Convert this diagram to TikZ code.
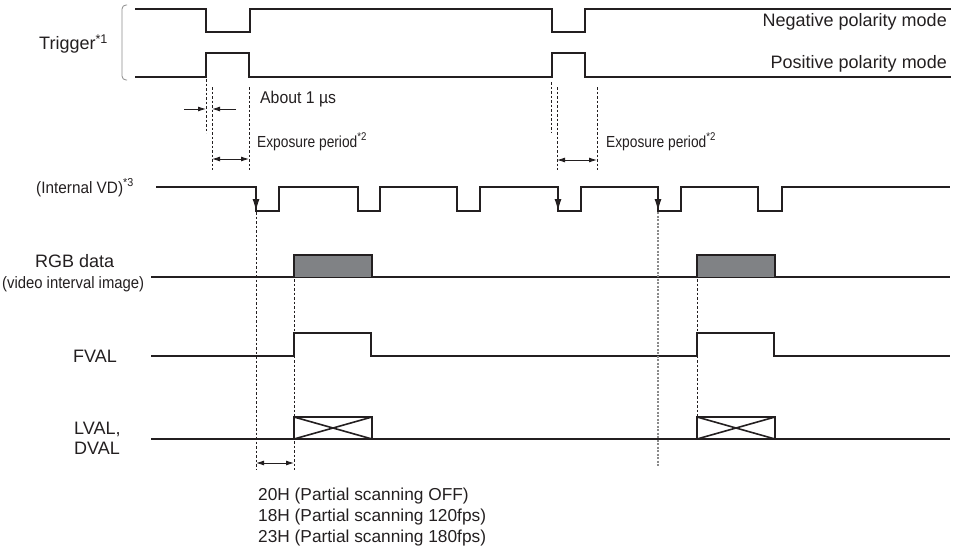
\documentclass[tikz,border=0pt]{standalone}
\usepackage{fontspec}
\setmainfont{Liberation Sans}
\usetikzlibrary{arrows.meta}
\definecolor{ink}{HTML}{231F20}
\definecolor{boxfill}{HTML}{808285}
\definecolor{guidegrey}{HTML}{8A8A8A}
\begin{document}
\begin{tikzpicture}[x=1pt,y=-1pt,
  sig/.style={line width=2.3pt, color=ink, line join=miter},
  guide/.style={line width=0.8pt, dash pattern=on 2.5pt off 2pt, color=ink},
  guidegray/.style={line width=1.1pt, dash pattern=on 2pt off 1.5pt, color=guidegrey},
  dimarrow/.style={line width=0.9pt, color=ink, -{Latex[length=8pt,width=5pt]}},
  dimboth/.style={line width=0.9pt, color=ink, {Latex[length=8pt,width=5pt]}-{Latex[length=8pt,width=5pt]}},
  vdarrow/.style={line width=1pt, color=ink, -{Latex[length=12pt,width=7pt]}},
  lbl/.style={inner sep=0pt, color=ink, font=\fontsize{18}{20}\selectfont},
  smalllbl/.style={inner sep=0pt, color=ink, font=\fontsize{16}{18}\selectfont, xscale=0.86},
  notelbl/.style={inner sep=0pt, color=ink, font=\fontsize{17.3}{20}\selectfont},
]
\useasboundingbox (0,0) rectangle (961,551);

% ---- bracket
\draw[line width=0.8pt, color=guidegrey, rounded corners=4pt] (127,5) -- (122,5) -- (122,80) -- (127,80);

% ---- trigger signals
\draw[sig] (135,9) -- (206,9) -- (206,32) -- (250,32) -- (250,9) -- (552,9) -- (552,32) -- (585,32) -- (585,9) -- (951,9);
\draw[sig] (135,77) -- (206,77) -- (206,53) -- (249,53) -- (249,77) -- (552,77) -- (552,53) -- (585,53) -- (585,77) -- (951,77);

% ---- internal VD
\draw[sig] (156,187) -- (256,187) -- (256,211) -- (279,211) -- (279,187) -- (358,187) -- (358,211) -- (380,211) -- (380,187)
  -- (457,187) -- (457,211) -- (480,211) -- (480,187) -- (558,187) -- (558,211) -- (581,211) -- (581,187)
  -- (658,187) -- (658,211) -- (681,211) -- (681,187) -- (758,187) -- (758,211) -- (782,211) -- (782,187) -- (950,187);
\coordinate (vda1) at (256,190); \coordinate (vdb1) at (256,211);
\coordinate (vda2) at (558,190); \coordinate (vdb2) at (558,211);
\coordinate (vda3) at (658,190); \coordinate (vdb3) at (658,211);
\draw[vdarrow] (vda1) -- (vdb1);
\draw[vdarrow] (vda2) -- (vdb2);
\draw[vdarrow] (vda3) -- (vdb3);

% ---- RGB data
\draw[sig] (151,277) -- (950,277);
\draw[sig, fill=boxfill] (294,277) -- (294,255) -- (372,255) -- (372,277);
\draw[sig, fill=boxfill] (697,277) -- (697,255) -- (775,255) -- (775,277);

% ---- FVAL
\draw[sig] (151,356) -- (294,356) -- (294,333) -- (371,333) -- (371,356) -- (697,356) -- (697,333) -- (774,333) -- (774,356) -- (950,356);

% ---- LVAL / DVAL
\draw[sig] (151,439) -- (950,439);
\draw[sig] (294,439) -- (294,417) -- (372,417) -- (372,439);
\draw[line width=1.6pt, color=ink] (294,417) -- (372,439) (294,439) -- (372,417);
\draw[sig] (697,439) -- (697,417) -- (775,417) -- (775,439);
\draw[line width=1.6pt, color=ink] (697,417) -- (775,439) (697,439) -- (775,417);

% ---- guide lines
\draw[guide] (206,79) -- (206,133);
\draw[guide] (212,87) -- (212,170);
\draw[guide] (249,87) -- (249,170);
\draw[guide] (551,82) -- (551,133);
\draw[guide] (557,87) -- (557,170);
\draw[guide] (597,87) -- (597,170);
\draw[guide] (256,212) -- (256,470);
\draw[guide] (294,279) -- (294,470);
\draw[guide] (697,279) -- (697,416);
\draw[guidegray] (658,212) -- (658,466);

% ---- dimension arrows
\coordinate (a1l) at (184,109); \coordinate (a1le) at (206,109);
\coordinate (a1r) at (236,109); \coordinate (a1re) at (212,109);
\draw[dimarrow] (a1l) -- (a1le);
\draw[dimarrow] (a1r) -- (a1re);
\coordinate (e1a) at (212,159); \coordinate (e1b) at (249,159);
\draw[dimboth] (e1a) -- (e1b);
\coordinate (e2a) at (557,160); \coordinate (e2b) at (597,160);
\draw[dimboth] (e2a) -- (e2b);
\coordinate (h1a) at (256,463); \coordinate (h1b) at (294,463);
\draw[dimboth] (h1a) -- (h1b);

% ---- labels
\node[lbl, anchor=base west] (trig) at (39,50) {Trigger\textsuperscript{*1}};
\node[lbl, anchor=base east] (neg) at (947,27) {Negative polarity mode};
\node[lbl, anchor=base east] (pos) at (947,69) {Positive polarity mode};
\node[lbl, anchor=base west, font=\fontsize{17}{20}\selectfont, xscale=0.93] (about) at (260,103) {About 1 µs};
\node[smalllbl, anchor=base west] (exp1) at (257,147) {Exposure period\textsuperscript{*2}};
\node[smalllbl, anchor=base west] (exp2) at (606,147) {Exposure period\textsuperscript{*2}};
\node[lbl, anchor=base west, font=\fontsize{16.5}{20}\selectfont, xscale=0.93] (vd) at (36,193) {(Internal VD)\textsuperscript{*3}};
\node[lbl, anchor=base west] (rgb) at (35,267) {RGB data};
\node[lbl, anchor=base west, font=\fontsize{16.5}{20}\selectfont, xscale=0.9] (rgb2) at (2,288) {(video interval image)};
\node[lbl, anchor=base west] (fval) at (73,362) {FVAL};
\node[lbl, anchor=base west] (lval) at (74,434) {LVAL,};
\node[lbl, anchor=base west] (dval) at (74,454) {DVAL};
\node[notelbl, anchor=base west] (n1) at (258,500) {20H (Partial scanning OFF)};
\node[notelbl, anchor=base west] (n2) at (258,521) {18H (Partial scanning 120fps)};
\node[notelbl, anchor=base west] (n3) at (258,542) {23H (Partial scanning 180fps)};
\end{tikzpicture}
\end{document}
